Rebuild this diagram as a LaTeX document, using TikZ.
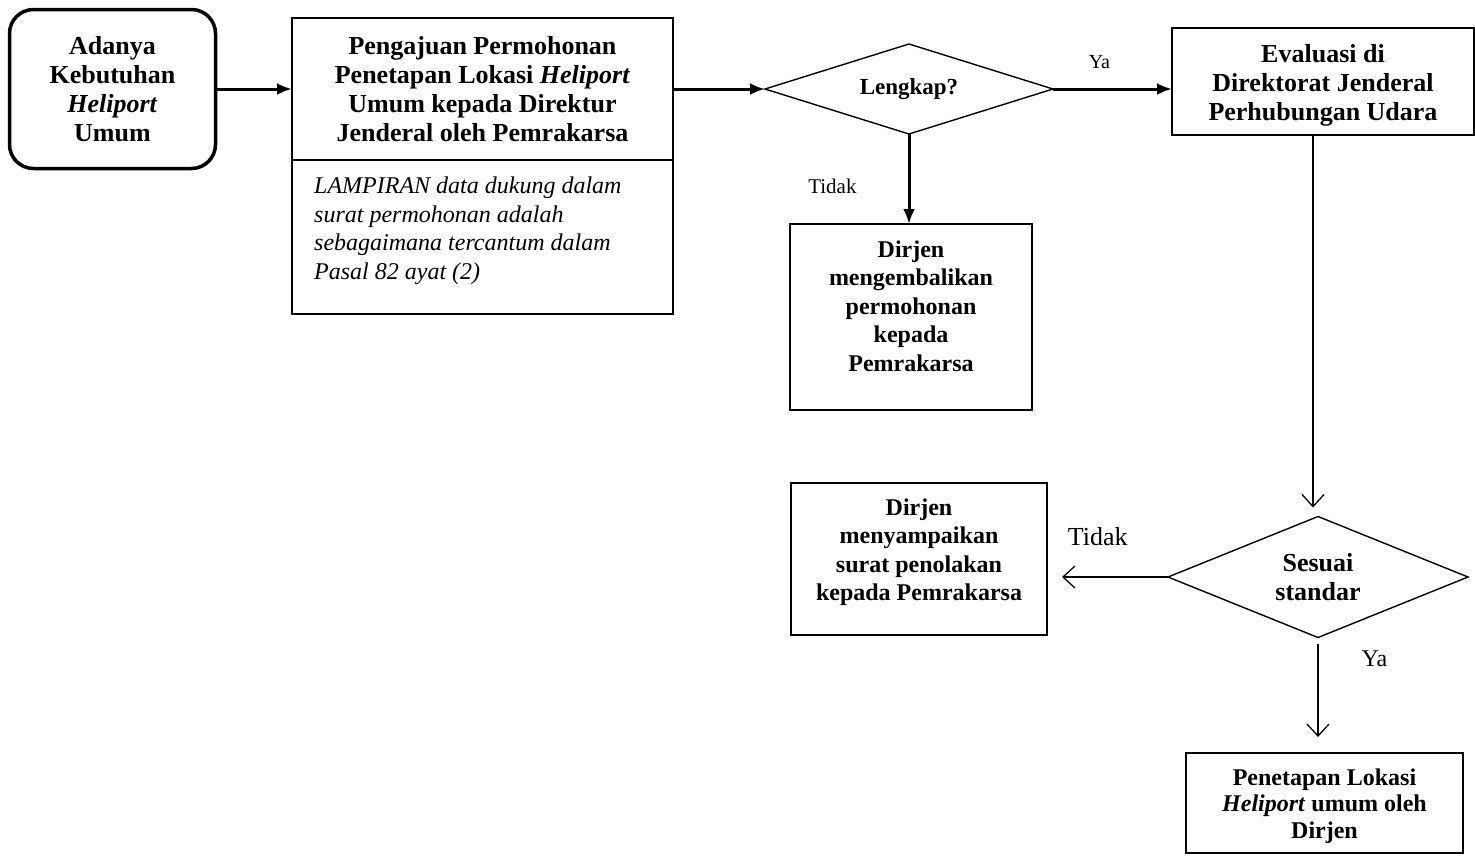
\documentclass[tikz,border=0pt]{standalone}
\usepackage{fontspec}
\setmainfont{Liberation Serif}
\usetikzlibrary{positioning}
\usetikzlibrary{shapes.geometric}
\usetikzlibrary{arrows.meta}

\begin{document}
\begin{tikzpicture}[x=1pt,y=-1pt,
box/.style={draw,line width=1.4pt,inner sep=0pt,outer sep=0pt,align=center},
decision/.style={draw,diamond,aspect=3,line width=1.4pt,inner sep=0pt,outer sep=0pt,align=center},
big/.style={align=center,font=\fontsize{26}{29}\selectfont\bfseries},
mid/.style={align=center,font=\fontsize{24}{28.5}\selectfont\bfseries},
thick arrow/.style={line width=3pt,-{Latex[length=15pt,width=12pt]}},
thin arrow/.style={line width=1.3pt,-{Straight Barb[length=12pt,width=22pt]}},
lbl/.style={inner sep=0pt,text height=14pt,text depth=4pt}]

\useasboundingbox (0,0) rectangle (1475,855);

\node[box,big,rounded corners=24pt,line width=3.5pt,minimum width=206pt,minimum height=159pt] (start) at (112.5,89) {Adanya\\Kebutuhan\\\textit{Heliport}\\Umum};

\node[box,big,minimum width=381pt,minimum height=142pt] (main) at (482.5,89) {Pengajuan Permohonan\\Penetapan Lokasi \textit{Heliport}\\Umum kepada Direktur\\Jenderal oleh Pemrakarsa};
\node[box,minimum width=381pt,minimum height=154pt,below=0pt of main] (lamp) {};
\node[anchor=north west,align=left,inner sep=0pt,font=\fontsize{24}{28.5}\selectfont\itshape] (lamp text) at ([xshift=22pt,yshift=-17pt]lamp.north west) {LAMPIRAN data dukung dalam\\surat permohonan adalah\\sebagaimana tercantum dalam\\Pasal 82 ayat (2)};

\node[decision,font=\fontsize{23}{26}\selectfont\bfseries,minimum width=288pt,minimum height=90pt] (lengkap) at (909,89) {Lengkap?};

\node[box,minimum width=302pt,minimum height=107pt] (eval) at (1323,81.5) {};
\node[big] (eval text) at ([yshift=-4pt]eval.center) {Evaluasi di\\Direktorat Jenderal\\Perhubungan Udara};

\node[box,minimum width=242pt,minimum height=186pt] (kembali) at (911,317) {};
\node[mid] (kembali text) at ([yshift=11pt]kembali.center) {Dirjen\\mengembalikan\\permohonan\\kepada\\Pemrakarsa};

\node[decision,aspect=2.5,big,minimum width=300pt,minimum height=121pt] (sesuai) at (1318,577) {Sesuai\\standar};

\node[box,minimum width=256pt,minimum height=152pt] (tolak) at (919,559) {};
\node[mid] (tolak text) at ([yshift=7pt]tolak.center) {Dirjen\\menyampaikan\\surat penolakan\\kepada Pemrakarsa};

\node[box,minimum width=277pt,minimum height=100pt] (tetap) at (1324.5,803) {};
\node[align=center,font=\fontsize{24}{26.5}\selectfont\bfseries] (tetap text) at ([yshift=-3pt]tetap.center) {Penetapan Lokasi\\\textit{Heliport} umum oleh\\Dirjen};

\draw[thick arrow] (start) -- (main);
\draw[thick arrow] (main) -- (lengkap);
\draw[thick arrow] (lengkap.east) -- node[lbl,font=\fontsize{20}{24}\selectfont,above=15pt,pos=0.39] (ya1) {Ya} (lengkap.east -| eval.west);
\draw[thick arrow] (lengkap.south) -- node[lbl,font=\fontsize{21}{24}\selectfont,left=51pt,pos=0.6] (tidak1) {Tidak} (lengkap.south |- kembali.north);

\draw[thin arrow,shorten >=9pt] ([xshift=-10pt]eval.south) -- ([xshift=-10pt]eval.south |- sesuai.north);
\draw[thin arrow,shorten >=15pt] (sesuai.west) -- node[lbl,font=\fontsize{26}{29}\selectfont,above=27pt,pos=0.58] (tidak2) {Tidak} (sesuai.west -| tolak.east);
\draw[thin arrow,shorten <=6pt,shorten >=16pt] (sesuai.south) -- node[lbl,font=\fontsize{24}{28}\selectfont,right=43pt,pos=0.21] (ya2) {Ya} (sesuai.south |- tetap.north);

\end{tikzpicture}
\end{document}
